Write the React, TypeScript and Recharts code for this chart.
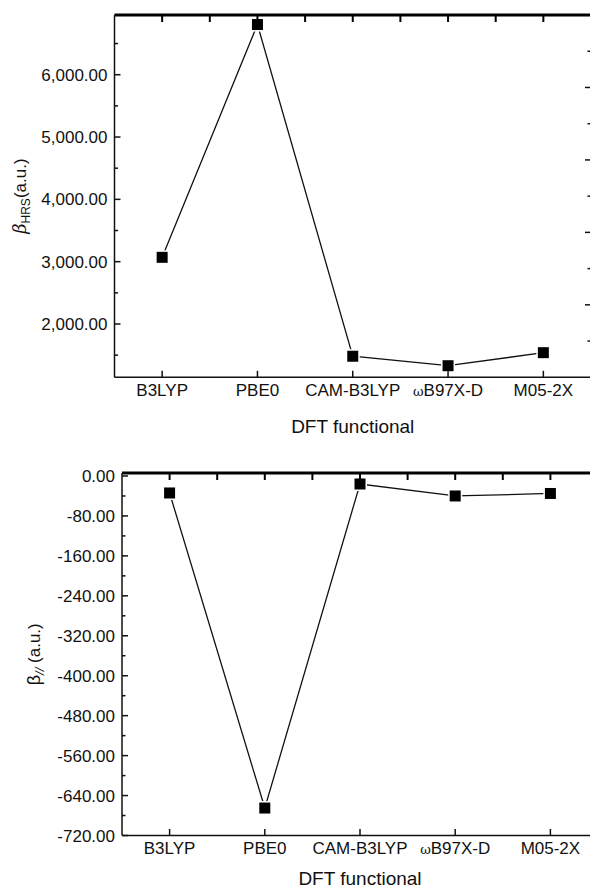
import React from 'react';
import { LineChart, Line, XAxis, YAxis, Label, ReferenceLine } from 'recharts';

const categories = ['B3LYP', 'PBE0', 'CAM-B3LYP', 'ωB97X-D', 'M05-2X'];
const betaHRS = [3070, 6805, 1483, 1331, 1540];
const betaPar = [-34, -665, -16, -40, -35];

const hrsMajorTicks = [2000, 3000, 4000, 5000, 6000];
const hrsMinorTicks = [1500, 2500, 3500, 4500, 5500, 6500];
const hrsDomain = [1145, 6958];

const parMajorTicks = [0, -80, -160, -240, -320, -400, -480, -560, -640, -720];
const parMinorTicks = [-40, -120, -200, -280, -360, -440, -520, -600, -680];
const parDomain = [-720, 6];

const catTicks = categories.map((_, i) => i + 0.5);
const halfTicks = [0.5, 1, 1.5, 2, 2.5, 3, 3.5, 4, 4.5];
const rightMajorTicks = [2, 4, 6, 8];
const rightMinorTicks = [1, 3, 5, 7, 9];

const hrsData = categories.map((name, i) => ({ x: i + 0.5, name, v: betaHRS[i] }));
const parData = categories.map((name, i) => ({ x: i + 0.5, name, v: betaPar[i] }));

const FONT = '"Liberation Sans", Arial, sans-serif';
const INK = '#111';
const TICK_W = 1.5;

const C1 = { w: 600, h: 440, top: 15, right: 8, bottom: 2.7, xh: 60, yw: 114.5 };
const C2 = { w: 610, h: 449, top: 33, right: 11, bottom: 3.5, xh: 50, yw: 122 };
const plotH = (c: typeof C1) => c.h - c.top - c.bottom - c.xh;

const fmtHrs = (v: number) =>
  v.toLocaleString('en-US', { minimumFractionDigits: 2, maximumFractionDigits: 2 });
const fmtPar = (v: number) => v.toFixed(2);

const makeLeftTick = (majors: number[], fmt: (v: number) => string) => (props: any) => {
  const { x, y, payload } = props;
  const major = majors.includes(payload.value);
  return (
    <g>
      <line x1={x} x2={Number(x) + (major ? 6 : 3.5)} y1={y} y2={y} stroke={INK} strokeWidth={TICK_W} />
      {major && (
        <text x={Number(x) - 7} y={y} dy="0.36em" textAnchor="end" fontSize={17} fontFamily={FONT} fill={INK}>
          {fmt(payload.value)}
        </text>
      )}
    </g>
  );
};

const makeRightTick = (majors: number[]) => (props: any) => {
  const { x, y, payload } = props;
  const major = majors.includes(payload.value);
  return (
    <g>
      <line x1={x} x2={Number(x) - (major ? 6 : 3.5)} y1={y} y2={y} stroke={INK} strokeWidth={TICK_W} />
    </g>
  );
};

const makeBottomTick = (c: typeof C1) => (props: any) => {
  const { payload } = props;
  const x = Number(props.x);
  const y = Number(props.y);
  const idx = catTicks.indexOf(payload.value);
  const name = idx >= 0 ? categories[idx] : '';
  const omega = name.startsWith('ω');
  const top = y - plotH(c);
  return (
    <g>
      <line x1={x} x2={x} y1={top} y2={top + 7} stroke="#000" strokeWidth={2} />
      {idx >= 0 && (
        <>
          <line x1={x} x2={x} y1={y} y2={y - 6.5} stroke={INK} strokeWidth={TICK_W} />
          <text x={x} y={y + 18.5} textAnchor="middle" fontSize={17} fontFamily={FONT} fill={INK}>
            {omega ? (
              <>
                <tspan fontSize={13} fontFamily='"DejaVu Serif", serif'>ω</tspan>
                <tspan>{name.slice(1)}</tspan>
              </>
            ) : (
              name
            )}
          </text>
        </>
      )}
    </g>
  );
};

const SquareDot = (props: any) => {
  const { cx, cy } = props;
  if (cx == null || cy == null) return null;
  const w = 12.5;
  return <rect x={cx - w / 2} y={cy - w / 2} width={w} height={w} fill="#000" stroke="#fff" strokeWidth={1.5} />;
};

const XTitle = (dy: number) => (props: any) => {
  const { viewBox } = props;
  const cx = viewBox.x + viewBox.width / 2;
  return (
    <text x={cx} y={viewBox.y + dy} textAnchor="middle" fontSize={19} fontFamily={FONT} fill={INK}>
      DFT functional
    </text>
  );
};

const HrsYTitle = (props: any) => {
  const { viewBox } = props;
  const cx = viewBox.x + 26;
  const cy = viewBox.y + viewBox.height / 2;
  return (
    <text x={cx} y={cy} transform={`rotate(-90 ${cx} ${cy})`} textAnchor="middle" fontSize={17} fontFamily={FONT} fill={INK}>
      <tspan fontStyle="italic" fontFamily='"DejaVu Serif", serif' fontSize={18}>β</tspan>
      <tspan fontSize={12} dy={4}>HRS</tspan>
      <tspan dy={-4}>(a.u.)</tspan>
    </text>
  );
};

const ParYTitle = (props: any) => {
  const { viewBox } = props;
  const cx = viewBox.x + 40;
  const cy = viewBox.y + viewBox.height / 2;
  return (
    <text x={cx} y={cy} transform={`rotate(-90 ${cx} ${cy})`} textAnchor="middle" fontSize={17} fontFamily={FONT} fill={INK}>
      <tspan fontSize={18}>β</tspan>
      <tspan fontSize={13} dy={4} fontStyle="italic">//</tspan>
      <tspan dy={-4}> (a.u.)</tspan>
    </text>
  );
};

const axisLine = { stroke: INK, strokeWidth: 1.5 };

type PanelProps = {
  c: typeof C1;
  data: { x: number; name: string; v: number }[];
  domain: number[];
  majors: number[];
  minors: number[];
  fmt: (v: number) => string;
  yTitle: (p: any) => React.ReactElement;
  xTitleDy: number;
};

function Panel({ c, data, domain, majors, minors, fmt, yTitle, xTitleDy }: PanelProps) {
  return (
    <LineChart width={c.w} height={c.h} data={data} margin={{ top: c.top, right: c.right, bottom: c.bottom, left: 0 }}>
      <XAxis
        xAxisId="b"
        dataKey="x"
        type="number"
        domain={[0, 5]}
        allowDataOverflow
        ticks={halfTicks}
        interval={0}
        height={c.xh}
        tickLine={false}
        tickSize={0}
        tickMargin={0}
        axisLine={axisLine}
        tick={makeBottomTick(c)}
      >
        <Label content={XTitle(xTitleDy)} />
      </XAxis>
      <YAxis
        yAxisId="l"
        type="number"
        domain={domain}
        allowDataOverflow
        ticks={[...minors, ...majors].sort((a, b) => a - b)}
        interval={0}
        width={c.yw}
        tickLine={false}
        tickSize={0}
        tickMargin={0}
        axisLine={axisLine}
        tick={makeLeftTick(majors, fmt)}
      >
        <Label content={yTitle} />
      </YAxis>
      <YAxis
        yAxisId="r"
        orientation="right"
        type="number"
        domain={[0, 10]}
        allowDataOverflow
        ticks={[...rightMinorTicks, ...rightMajorTicks].sort((a, b) => a - b)}
        interval={0}
        width={1}
        tickLine={false}
        tickSize={0}
        tickMargin={0}
        axisLine={axisLine}
        tick={makeRightTick(rightMajorTicks)}
      />
      <ReferenceLine xAxisId="b" yAxisId="l" y={domain[1]} stroke="#000" strokeWidth={3} />
      <Line
        xAxisId="b"
        yAxisId="l"
        type="linear"
        dataKey="v"
        stroke={INK}
        strokeWidth={1.3}
        dot={(p: any) => <SquareDot key={p.index} {...p} />}
        activeDot={false}
        isAnimationActive={false}
      />
    </LineChart>
  );
}

export default function App() {
  return (
    <div style={{ position: 'absolute', left: 0, top: 0, width: 590, height: 889, overflow: 'hidden', background: '#fff' }}>
      <div style={{ position: 'absolute', left: 0, top: 0 }}>
        <Panel
          c={C1}
          data={hrsData}
          domain={hrsDomain}
          majors={hrsMajorTicks}
          minors={hrsMinorTicks}
          fmt={fmtHrs}
          yTitle={HrsYTitle}
          xTitleDy={56}
        />
      </div>
      <div style={{ position: 'absolute', left: 0, top: 440 }}>
        <Panel
          c={C2}
          data={parData}
          domain={parDomain}
          majors={parMajorTicks}
          minors={parMinorTicks}
          fmt={fmtPar}
          yTitle={ParYTitle}
          xTitleDy={49.5}
        />
      </div>
    </div>
  );
}
